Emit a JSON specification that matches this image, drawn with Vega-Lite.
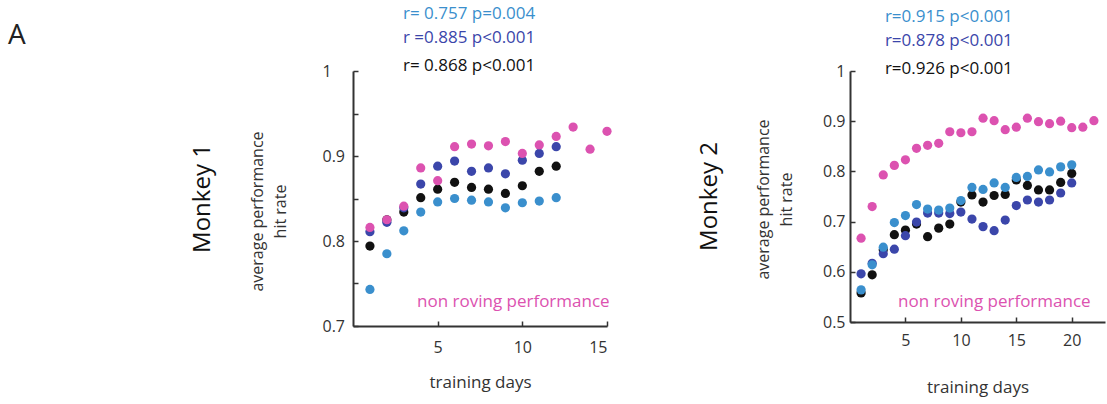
{
  "$schema": "https://vega.github.io/schema/vega-lite/v6.json",
  "autosize": {"type": "none"},
  "padding": {"left": 353, "top": 71, "right": 754, "bottom": 333},
  "background": "white",
  "title": {"text": "A", "anchor": "start", "frame": "group", "fontSize": 28, "fontWeight": "normal", "color": "#222", "dx": -345, "dy": 49},
  "bounds": "flush",
  "spacing": 243,
  "datasets": {
    "m1": [
      {"day": 1, "hit": 0.794, "series": "combined"}, {"day": 2, "hit": 0.825, "series": "combined"}, {"day": 3, "hit": 0.834, "series": "combined"}, {"day": 4, "hit": 0.851, "series": "combined"}, {"day": 5, "hit": 0.861, "series": "combined"}, {"day": 6, "hit": 0.869, "series": "combined"}, {"day": 7, "hit": 0.863, "series": "combined"}, {"day": 8, "hit": 0.861, "series": "combined"}, {"day": 9, "hit": 0.856, "series": "combined"}, {"day": 10, "hit": 0.865, "series": "combined"}, {"day": 11, "hit": 0.882, "series": "combined"}, {"day": 12, "hit": 0.888, "series": "combined"},
      {"day": 1, "hit": 0.811, "series": "dark"}, {"day": 2, "hit": 0.822, "series": "dark"}, {"day": 3, "hit": 0.839, "series": "dark"}, {"day": 4, "hit": 0.867, "series": "dark"}, {"day": 5, "hit": 0.888, "series": "dark"}, {"day": 6, "hit": 0.894, "series": "dark"}, {"day": 7, "hit": 0.882, "series": "dark"}, {"day": 8, "hit": 0.886, "series": "dark"}, {"day": 9, "hit": 0.879, "series": "dark"}, {"day": 10, "hit": 0.895, "series": "dark"}, {"day": 11, "hit": 0.903, "series": "dark"}, {"day": 12, "hit": 0.911, "series": "dark"},
      {"day": 1, "hit": 0.743, "series": "light"}, {"day": 2, "hit": 0.785, "series": "light"}, {"day": 3, "hit": 0.812, "series": "light"}, {"day": 4, "hit": 0.834, "series": "light"}, {"day": 5, "hit": 0.846, "series": "light"}, {"day": 6, "hit": 0.850, "series": "light"}, {"day": 7, "hit": 0.848, "series": "light"}, {"day": 8, "hit": 0.846, "series": "light"}, {"day": 9, "hit": 0.839, "series": "light"}, {"day": 10, "hit": 0.845, "series": "light"}, {"day": 11, "hit": 0.847, "series": "light"}, {"day": 12, "hit": 0.851, "series": "light"},
      {"day": 1, "hit": 0.816, "series": "non roving"}, {"day": 2, "hit": 0.825, "series": "non roving"}, {"day": 3, "hit": 0.841, "series": "non roving"}, {"day": 4, "hit": 0.886, "series": "non roving"}, {"day": 5, "hit": 0.871, "series": "non roving"}, {"day": 6, "hit": 0.911, "series": "non roving"}, {"day": 7, "hit": 0.914, "series": "non roving"}, {"day": 8, "hit": 0.912, "series": "non roving"}, {"day": 9, "hit": 0.917, "series": "non roving"}, {"day": 10, "hit": 0.903, "series": "non roving"}, {"day": 11, "hit": 0.913, "series": "non roving"}, {"day": 12, "hit": 0.923, "series": "non roving"}, {"day": 13, "hit": 0.934, "series": "non roving"}, {"day": 14, "hit": 0.908, "series": "non roving"}, {"day": 15, "hit": 0.929, "series": "non roving"}
    ],
    "m2": [
      {"day": 1, "hit": 0.558, "series": "combined"}, {"day": 2, "hit": 0.594, "series": "combined"}, {"day": 3, "hit": 0.644, "series": "combined"}, {"day": 4, "hit": 0.674, "series": "combined"}, {"day": 5, "hit": 0.683, "series": "combined"}, {"day": 6, "hit": 0.695, "series": "combined"}, {"day": 7, "hit": 0.670, "series": "combined"}, {"day": 8, "hit": 0.687, "series": "combined"}, {"day": 9, "hit": 0.695, "series": "combined"}, {"day": 10, "hit": 0.739, "series": "combined"}, {"day": 11, "hit": 0.753, "series": "combined"}, {"day": 12, "hit": 0.739, "series": "combined"}, {"day": 13, "hit": 0.752, "series": "combined"}, {"day": 14, "hit": 0.754, "series": "combined"}, {"day": 15, "hit": 0.783, "series": "combined"}, {"day": 16, "hit": 0.772, "series": "combined"}, {"day": 17, "hit": 0.763, "series": "combined"}, {"day": 18, "hit": 0.763, "series": "combined"}, {"day": 19, "hit": 0.778, "series": "combined"}, {"day": 20, "hit": 0.796, "series": "combined"},
      {"day": 1, "hit": 0.596, "series": "dark"}, {"day": 2, "hit": 0.617, "series": "dark"}, {"day": 3, "hit": 0.636, "series": "dark"}, {"day": 4, "hit": 0.645, "series": "dark"}, {"day": 5, "hit": 0.672, "series": "dark"}, {"day": 6, "hit": 0.699, "series": "dark"}, {"day": 7, "hit": 0.717, "series": "dark"}, {"day": 8, "hit": 0.717, "series": "dark"}, {"day": 9, "hit": 0.716, "series": "dark"}, {"day": 10, "hit": 0.719, "series": "dark"}, {"day": 11, "hit": 0.705, "series": "dark"}, {"day": 12, "hit": 0.690, "series": "dark"}, {"day": 13, "hit": 0.682, "series": "dark"}, {"day": 14, "hit": 0.703, "series": "dark"}, {"day": 15, "hit": 0.732, "series": "dark"}, {"day": 16, "hit": 0.743, "series": "dark"}, {"day": 17, "hit": 0.739, "series": "dark"}, {"day": 18, "hit": 0.743, "series": "dark"}, {"day": 19, "hit": 0.757, "series": "dark"}, {"day": 20, "hit": 0.777, "series": "dark"},
      {"day": 1, "hit": 0.564, "series": "light"}, {"day": 2, "hit": 0.614, "series": "light"}, {"day": 3, "hit": 0.649, "series": "light"}, {"day": 4, "hit": 0.698, "series": "light"}, {"day": 5, "hit": 0.712, "series": "light"}, {"day": 6, "hit": 0.734, "series": "light"}, {"day": 7, "hit": 0.725, "series": "light"}, {"day": 8, "hit": 0.723, "series": "light"}, {"day": 9, "hit": 0.727, "series": "light"}, {"day": 10, "hit": 0.742, "series": "light"}, {"day": 11, "hit": 0.768, "series": "light"}, {"day": 12, "hit": 0.764, "series": "light"}, {"day": 13, "hit": 0.777, "series": "light"}, {"day": 14, "hit": 0.768, "series": "light"}, {"day": 15, "hit": 0.788, "series": "light"}, {"day": 16, "hit": 0.790, "series": "light"}, {"day": 17, "hit": 0.803, "series": "light"}, {"day": 18, "hit": 0.799, "series": "light"}, {"day": 19, "hit": 0.809, "series": "light"}, {"day": 20, "hit": 0.813, "series": "light"},
      {"day": 1, "hit": 0.667, "series": "non roving"}, {"day": 2, "hit": 0.730, "series": "non roving"}, {"day": 3, "hit": 0.793, "series": "non roving"}, {"day": 4, "hit": 0.812, "series": "non roving"}, {"day": 5, "hit": 0.823, "series": "non roving"}, {"day": 6, "hit": 0.846, "series": "non roving"}, {"day": 7, "hit": 0.852, "series": "non roving"}, {"day": 8, "hit": 0.856, "series": "non roving"}, {"day": 9, "hit": 0.879, "series": "non roving"}, {"day": 10, "hit": 0.877, "series": "non roving"}, {"day": 11, "hit": 0.879, "series": "non roving"}, {"day": 12, "hit": 0.906, "series": "non roving"}, {"day": 13, "hit": 0.901, "series": "non roving"}, {"day": 14, "hit": 0.883, "series": "non roving"}, {"day": 15, "hit": 0.888, "series": "non roving"}, {"day": 16, "hit": 0.906, "series": "non roving"}, {"day": 17, "hit": 0.899, "series": "non roving"}, {"day": 18, "hit": 0.895, "series": "non roving"}, {"day": 19, "hit": 0.900, "series": "non roving"}, {"day": 20, "hit": 0.887, "series": "non roving"}, {"day": 21, "hit": 0.888, "series": "non roving"}, {"day": 22, "hit": 0.901, "series": "non roving"}
    ],
    "n1": [
      {"label": "r= 0.757 p=0.004", "series": "light", "day": 2.95, "hit": 1.067},
      {"label": "r =0.885 p<0.001", "series": "dark", "day": 2.95, "hit": 1.0388},
      {"label": "r= 0.868 p<0.001", "series": "combined", "day": 2.95, "hit": 1.0059},
      {"label": "non roving performance", "series": "non roving", "day": 3.78, "hit": 0.7286}
    ],
    "n2": [
      {"label": "r=0.915 p<0.001", "series": "light", "day": 3.15, "hit": 1.1076},
      {"label": "r=0.878 p<0.001", "series": "dark", "day": 3.15, "hit": 1.0598},
      {"label": "r=0.926 p<0.001", "series": "combined", "day": 3.15, "hit": 1.004},
      {"label": "non roving performance", "series": "non roving", "day": 4.33, "hit": 0.540}
    ]
  },
  "hconcat": [
    {
      "width": 254,
      "height": 255,
      "title": {"text": "Monkey 1", "orient": "left", "anchor": "middle", "frame": "group", "fontSize": 24, "fontWeight": "normal", "color": "#111", "offset": 34},
      "layer": [
        {
          "data": {"name": "m1"},
          "mark": {"type": "circle", "opacity": 1, "strokeWidth": 0},
          "encoding": {
            "x": {"field": "day", "type": "quantitative", "scale": {"domain": [0, 15], "nice": false, "zero": false},
                  "axis": {"title": "training days", "values": [5, 10, 15], "labelPadding": 18, "titlePadding": 19}},
            "y": {"field": "hit", "type": "quantitative", "scale": {"domain": [0.7, 1], "nice": false, "zero": false},
                  "axis": {"title": ["average performance", "hit rate"], "values": [0.7, 0.75, 0.8, 0.85, 0.9, 0.95, 1], "format": ".2~f",
                           "labelExpr": "indexof(['0.75','0.85','0.95'], datum.label) >= 0 ? '' : datum.label",
                           "labelAlign": "left", "labelPadding": 36, "titlePadding": 34, "titleY": 140, "titleLineHeight": 23}},
            "color": {"field": "series", "type": "nominal", "scale": {"domain": ["combined", "dark", "light", "non roving"], "range": ["#111111", "#3b46aa", "#3a8fcd", "#dc52b0"]}, "legend": null},
            "size": {"field": "series", "type": "nominal", "scale": {"domain": ["combined", "dark", "light", "non roving"], "range": [85, 85, 85, 36]}, "legend": null}
          }
        },
        {
          "data": {"name": "n1"},
          "mark": {"type": "text", "align": "left", "baseline": "middle", "fontSize": 17},
          "encoding": {
            "x": {"field": "day", "type": "quantitative"},
            "y": {"field": "hit", "type": "quantitative"},
            "text": {"field": "label"},
            "color": {"field": "series", "type": "nominal", "legend": null}
          }
        }
      ]
    },
    {
      "width": 255,
      "height": 251,
      "title": {"text": "Monkey 2", "orient": "left", "anchor": "middle", "frame": "group", "fontSize": 24, "fontWeight": "normal", "color": "#111", "offset": 34},
      "layer": [
        {
          "data": {"name": "m2"},
          "mark": {"type": "circle", "opacity": 1, "strokeWidth": 0},
          "encoding": {
            "x": {"field": "day", "type": "quantitative", "scale": {"domain": [0, 23], "nice": false, "zero": false},
                  "axis": {"title": "training days", "values": [5, 10, 15, 20], "labelPadding": 15, "titlePadding": 31}},
            "y": {"field": "hit", "type": "quantitative", "scale": {"domain": [0.5, 1], "nice": false, "zero": false},
                  "axis": {"title": ["average performance", "hit rate"], "values": [0.5, 0.6, 0.7, 0.8, 0.9, 1], "format": ".1~f",
                           "labelPadding": 10, "titlePadding": 28, "titleY": 128, "titleLineHeight": 23}},
            "color": {"field": "series", "type": "nominal", "scale": {"domain": ["combined", "dark", "light", "non roving"], "range": ["#111111", "#3b46aa", "#3a8fcd", "#dc52b0"]}, "legend": null},
            "size": {"field": "series", "type": "nominal", "scale": {"domain": ["combined", "dark", "light", "non roving"], "range": [100, 100, 100, 40]}, "legend": null}
          }
        },
        {
          "data": {"name": "n2"},
          "mark": {"type": "text", "align": "left", "baseline": "middle", "fontSize": 17},
          "encoding": {
            "x": {"field": "day", "type": "quantitative"},
            "y": {"field": "hit", "type": "quantitative"},
            "text": {"field": "label"},
            "color": {"field": "series", "type": "nominal", "legend": null}
          }
        }
      ]
    }
  ],
  "config": {
    "font": "Open Sans",
    "view": {"stroke": null},
    "axis": {"grid": false, "domainColor": "#333", "domainWidth": 2, "tickColor": "#333", "tickWidth": 1.5, "tickSize": -5,
             "labelFont": "Open Sans", "labelFontSize": 16, "labelColor": "#333", "titleFont": "Open Sans", "titleFontSize": 16, "titleFontWeight": "normal", "titleColor": "#333"},
    "axisX": {"titleFontSize": 17},
    "text": {"font": "Open Sans"}
  }
}
